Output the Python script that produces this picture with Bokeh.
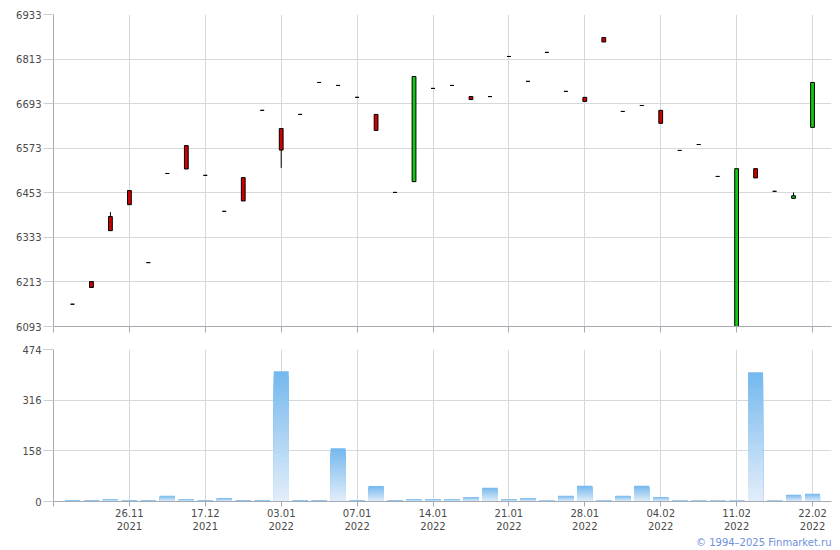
from bokeh.plotting import figure
from bokeh.layouts import column
from bokeh.models import FixedTicker, Title, ColumnDataSource, Range1d
from bokeh.embed import file_html
from bokeh.resources import INLINE

# ---- data ----
dates = ["19.11.2021", "22.11.2021", "24.11.2021", "26.11.2021", "01.12.2021",
         "07.12.2021", "10.12.2021", "17.12.2021", "21.12.2021", "24.12.2021",
         "28.12.2021", "03.01.2022", "04.01.2022", "05.01.2022", "06.01.2022",
         "07.01.2022", "10.01.2022", "11.01.2022", "12.01.2022", "14.01.2022",
         "17.01.2022", "18.01.2022", "19.01.2022", "21.01.2022", "24.01.2022",
         "25.01.2022", "27.01.2022", "28.01.2022", "31.01.2022", "01.02.2022",
         "02.02.2022", "04.02.2022", "07.02.2022", "08.02.2022", "10.02.2022",
         "11.02.2022", "14.02.2022", "16.02.2022", "18.02.2022", "22.02.2022"]
opens = [6153, 6214, 6389, 6459, 6265, 6505, 6580, 6500, 6403, 6494,
         6675, 6626, 6664, 6750, 6742, 6710, 6664, 6454, 6483, 6734,
         6742, 6712, 6712, 6820, 6753, 6831, 6726, 6710, 6871, 6672,
         6688, 6675, 6567, 6583, 6497, 6093, 6518, 6457, 6438, 6629]
highs = [6153, 6214, 6401, 6459, 6265, 6505, 6580, 6500, 6403, 6494,
         6675, 6626, 6664, 6750, 6742, 6710, 6664, 6454, 6766, 6734,
         6742, 6712, 6712, 6820, 6753, 6831, 6726, 6710, 6871, 6672,
         6688, 6675, 6567, 6583, 6497, 6518, 6518, 6457, 6454, 6750]
lows = [6153, 6198, 6351, 6421, 6265, 6505, 6517, 6500, 6403, 6431,
        6675, 6520, 6664, 6750, 6742, 6710, 6621, 6454, 6483, 6734,
        6742, 6704, 6712, 6820, 6753, 6831, 6726, 6699, 6859, 6672,
        6688, 6640, 6567, 6583, 6497, 6093, 6493, 6457, 6438, 6629]
closes = [6153, 6198, 6351, 6421, 6265, 6505, 6517, 6500, 6403, 6431,
          6675, 6568, 6664, 6750, 6742, 6710, 6621, 6454, 6766, 6734,
          6742, 6704, 6712, 6820, 6753, 6831, 6726, 6699, 6859, 6672,
          6688, 6640, 6567, 6583, 6497, 6518, 6493, 6457, 6445, 6750]
volumes = [3, 3, 7, 3, 3, 18, 7, 3, 10, 3,
           3, 406, 3, 3, 166, 3, 48, 3, 7, 7,
           7, 14, 43, 7, 10, 4, 18, 49, 4, 18,
           49, 14, 4, 4, 4, 4, 403, 4, 21, 24]
price_ticks = [6093, 6213, 6333, 6453, 6573, 6693, 6813, 6933]
volume_ticks = [0, 158, 316, 474]

FONT = "DejaVu Sans"
TEXT_COLOR = "#4a4a4a"
GRID_COLOR = "#d3d9dd"
AXIS_COLOR = "#a6aab2"

n = len(dates)
xs = list(range(n))
x_ticks = [-1] + list(range(3, n, 4))
x_labels = {-1: ""}
for t in range(3, n, 4):
    d = dates[t]
    x_labels[t] = d[:5] + "\n" + d[6:]


def style(p, ticks_y):
    p.outline_line_color = None
    p.background_fill_color = "white"
    p.border_fill_color = "white"
    p.xgrid.ticker = FixedTicker(ticks=x_ticks)
    p.ygrid.ticker = FixedTicker(ticks=ticks_y)
    for g in (p.xgrid, p.ygrid):
        g.grid_line_color = GRID_COLOR
        g.grid_line_width = 1
    p.xaxis.ticker = FixedTicker(ticks=x_ticks)
    p.yaxis.ticker = FixedTicker(ticks=ticks_y)
    p.xaxis.minor_tick_line_color = None
    p.yaxis.minor_tick_line_color = None
    p.xaxis.axis_line_color = AXIS_COLOR
    p.yaxis.axis_line_color = AXIS_COLOR
    p.xaxis.major_tick_line_color = AXIS_COLOR
    p.yaxis.major_tick_line_color = "#c9cfd4"
    p.xaxis.major_tick_in = 0
    p.yaxis.major_tick_in = 0
    p.yaxis.major_tick_out = 10
    p.yaxis.major_label_standoff = 2
    for ax in (p.xaxis, p.yaxis):
        ax.major_label_text_font = FONT
        ax.major_label_text_font_size = "10px"
        ax.major_label_text_color = TEXT_COLOR


# ---- price panel ----
p1 = figure(width=840, height=342, x_range=Range1d(-1, n), y_range=Range1d(price_ticks[0], price_ticks[-1]),
            output_backend="svg", toolbar_location=None,
            min_border_left=53, min_border_right=9, min_border_top=14, min_border_bottom=16)
style(p1, price_ticks)
p1.xaxis.major_tick_out = 6
p1.xaxis.major_label_overrides = {t: "" for t in x_ticks}
p1.xaxis.major_label_text_font_size = "0px"
p1.xaxis.major_label_standoff = 0

colors = []
for o, c in zip(opens, closes):
    if c > o:
        colors.append("#11c811")
    elif c < o:
        colors.append("#cc0000")
    else:
        colors.append("black")
src = ColumnDataSource(dict(x=xs, o=opens, h=highs, l=lows, c=closes,
                            top=[max(o, c) for o, c in zip(opens, closes)],
                            bot=[min(o, c) for o, c in zip(opens, closes)],
                            color=colors))
p1.segment(x0="x", x1="x", y0="l", y1="h", source=src, line_color="black", line_width=1)
p1.vbar(x="x", top="top", bottom="bot", width=0.2, source=src,
        fill_color="color", line_color="black", line_width=1)

# ---- volume panel ----
p2 = figure(width=840, height=208, x_range=p1.x_range, y_range=Range1d(volume_ticks[0], volume_ticks[-1]),
            output_backend="svg", toolbar_location=None,
            min_border_left=53, min_border_right=9, min_border_top=7, min_border_bottom=49)
style(p2, volume_ticks)
p2.xaxis.major_tick_out = 5
p2.xaxis.major_label_standoff = 1
p2.xaxis.major_label_overrides = x_labels


def hex_to_rgb(h):
    return tuple(int(h[i:i + 2], 16) for i in (1, 3, 5))


top_rgb = hex_to_rgb("#74b8ee")
bot_rgb = hex_to_rgb("#e3eef9")
N = 30
for k in range(N):
    frac = (N - k) / N  # fraction of bar height for this layer
    mid = (N - k - 0.5) / N
    rgb = tuple(int(round(b + (t - b) * mid)) for t, b in zip(top_rgb, bot_rgb))
    col = "#%02x%02x%02x" % rgb
    p2.vbar(x=xs, top=[v * frac for v in volumes], bottom=0, width=0.79,
            fill_color=col, line_color=None)

p2.add_layout(Title(text="\u00a9 1994\u20132025 Finmarket.ru", align="right",
                    text_font=FONT, text_font_size="10px", text_font_style="normal",
                    text_color="#7090dd", offset=0, standoff=0), "below")

layout = column(p1, p2, spacing=0)
open("out.html", "w").write(file_html(layout, INLINE))
